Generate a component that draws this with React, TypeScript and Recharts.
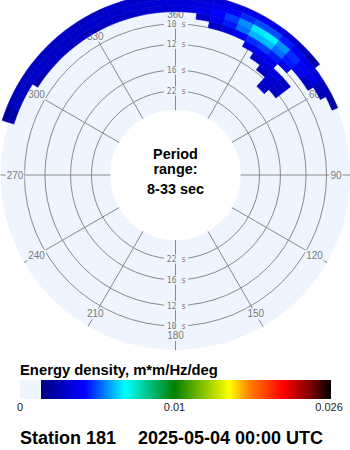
import React from 'react';
import { RadarChart, PolarGrid, PolarAngleAxis, PolarRadiusAxis, Pie, Cell } from 'recharts';

// ---------------- data ----------------
const angleTicks = [0, 30, 60, 90, 120, 150, 180, 210, 240, 270, 300, 330];
const periodTicks = [10, 12, 16, 22]; // seconds
const periodRange = [8, 33]; // seconds

// direction bin centres (deg, clockwise from north), 5 deg wide
const dirBins = [285, 290, 295, 300, 305, 310, 315, 320, 325, 330, 335, 340, 345, 350, 355, 0, 5, 10, 15, 20, 25, 30, 35, 40, 45, 50, 55, 60, 65, 70];
const DIR_WIDTH = 5;
// frequency bin centres (Hz), 0.005 Hz wide
const freqBins = [0.1225, 0.1175, 0.1125, 0.1075, 0.1025, 0.0975, 0.0925, 0.0875, 0.0825, 0.0775];
const FREQ_WIDTH = 0.005;

// energy density in units of 1e-4 m*m/Hz/deg, one row per frequency bin
//             285 290 295 300 305 310 315 320 325 330 335 340 345 350 355  0   5  10  15  20  25  30  35  40  45  50  55  60  65  70
const e1225 = [0, 8, 14, 16, 17, 17, 18, 18, 18, 18, 18, 19, 19, 19, 19, 20, 20, 21, 22, 24, 26, 27, 26, 22, 18, 10, 0, 0, 0, 0];
const e1175 = [0, 10, 16, 18, 19, 19, 19, 19, 19, 20, 20, 20, 21, 22, 22, 23, 24, 25, 28, 32, 38, 42, 42, 36, 30, 26, 22, 17, 10, 0];
const e1125 = [0, 0, 0, 0, 14, 16, 17, 17, 16, 16, 17, 18, 19, 20, 21, 22, 24, 27, 32, 40, 50, 60, 62, 50, 38, 32, 26, 14, 0, 0];
const e1075 = [0, 0, 0, 0, 0, 0, 0, 0, 0, 0, 0, 0, 0, 0, 0, 0, 0, 20, 28, 36, 46, 54, 55, 46, 36, 28, 16, 0, 0, 0];
const e1025 = [0, 0, 0, 0, 0, 0, 0, 0, 0, 0, 0, 0, 0, 0, 0, 0, 0, 0, 18, 24, 32, 38, 40, 36, 28, 0, 0, 0, 0, 0];
const e0975 = [0, 0, 0, 0, 0, 0, 0, 0, 0, 0, 0, 0, 0, 0, 0, 0, 0, 0, 0, 0, 0, 26, 30, 28, 0, 0, 0, 0, 0, 0];
const e0925 = [0, 0, 0, 0, 0, 0, 0, 0, 0, 0, 0, 0, 0, 0, 0, 0, 0, 0, 0, 0, 0, 0, 20, 24, 24, 18, 0, 0, 0, 0];
const e0875 = [0, 0, 0, 0, 0, 0, 0, 0, 0, 0, 0, 0, 0, 0, 0, 0, 0, 0, 0, 0, 0, 0, 0, 18, 22, 20, 0, 0, 0, 0];
const e0825 = [0, 0, 0, 0, 0, 0, 0, 0, 0, 0, 0, 0, 0, 0, 0, 0, 0, 0, 0, 0, 0, 0, 0, 0, 20, 18, 0, 0, 0, 0];
const e0775 = [0, 0, 0, 0, 0, 0, 0, 0, 0, 0, 0, 0, 0, 0, 0, 0, 0, 0, 0, 0, 0, 0, 0, 0, 16, 0, 0, 0, 0, 0];
const energyRows = [e1225, e1175, e1125, e1075, e1025, e0975, e0925, e0875, e0825, e0775];
const ENERGY_UNIT = 1e-4;

// colour scale
const cmapValues = [0, 0.0033, 0.0063, 0.01, 0.0156, 0.018, 0.0211, 0.0239, 0.026];
const cmapColors = ['#000080', '#0000ff', '#00ffff', '#008000', '#ffff00', '#ff8000', '#ff0000', '#800000', '#000000'];
const cbarPositions = [0, 0.15, 0.29, 0.46, 0.65, 0.72, 0.834, 0.928, 1];
const cbarTickLabels = ['0', '0.01', '0.026'];

const stationName = 'Station 181';
const timeLabel = '2025-05-04 00:00 UTC';
const cbarTitle = 'Energy density, m*m/Hz/deg';

// ---------------- layout ----------------
const CX = 175.5;
const CY = 175;
const INNER_R = 65;
const OUTER_R = 175;
// radial axis: frequency measured from the inner edge of the plot
const F_INNER = 0.02997;
const F_OUTER = 0.1195;
const radialDomain: [number, number] = [0, F_OUTER - F_INNER];
const DISC = '#eef5fe';
const GRID = '#8a8a8a';
const LABEL = '#7a7a7a';

const rScale = (f: number) =>
  INNER_R + ((f - F_INNER) / (F_OUTER - F_INNER)) * (OUTER_R - INNER_R);

const hexToRgb = (h: string) => [1, 3, 5].map((i) => parseInt(h.slice(i, i + 2), 16));
const colorOf = (v: number) => {
  if (v <= 0) return 'none';
  for (let i = 1; i < cmapValues.length; i++) {
    if (v <= cmapValues[i]) {
      const t = (v - cmapValues[i - 1]) / (cmapValues[i] - cmapValues[i - 1]);
      const a = hexToRgb(cmapColors[i - 1]);
      const b = hexToRgb(cmapColors[i]);
      const c = a.map((x, k) => Math.round(x + (b[k] - x) * t));
      return `rgb(${c[0]},${c[1]},${c[2]})`;
    }
  }
  return cmapColors[cmapColors.length - 1];
};

const axisRows = angleTicks.map((a, i) => ({ dir: a, df: i < periodTicks.length ? 1 / periodTicks[i] - F_INNER : 0 }));
const radialTicks = periodTicks.map((p) => 1 / p - F_INNER);

const AngleTick = (props: any) => {
  const { payload } = props;
  const cx = typeof props.cx === 'number' ? props.cx : CX;
  const cy = typeof props.cy === 'number' ? props.cy : CY;
  const a = ((90 - payload.value) * Math.PI) / 180;
  const R = 160.5;
  const x = cx + R * Math.cos(a);
  const y = cy - R * Math.sin(a);
  const label = payload.value === 0 ? '360' : String(payload.value);
  const w = label.length * 5.6 + 2;
  return (
    <g>
      <rect x={x - w / 2} y={y - 5.5} width={w} height={11} fill={DISC} />
      <text x={x} y={y + 3.5} textAnchor="middle" fontSize={10} fill={LABEL} fontFamily="Liberation Sans, Arial, sans-serif">
        {label}
      </text>
    </g>
  );
};

const PeriodTick = (props: any) => {
  const { x, y, payload } = props;
  const label = `${Math.round(1 / (payload.value + F_INNER))} s`;
  return (
    <g>
      <rect x={x - 11.5} y={y - 4.5} width={24} height={9} fill={DISC} />
      <text x={x + 1} y={y + 3} textAnchor="middle" fontSize={8} fill={LABEL} fontFamily="DejaVu Sans Mono, monospace">
        {label}
      </text>
    </g>
  );
};

const startAngle = (() => {
  const s = 90 - (dirBins[0] - DIR_WIDTH / 2);
  return s < 0 ? s + 360 : s;
})();
const endAngle = startAngle - dirBins.length * DIR_WIDTH;

export default function App() {
  const gradient = `linear-gradient(to right, ${cmapColors
    .map((c, i) => `${c} ${(cbarPositions[i] * 100).toFixed(1)}%`)
    .join(', ')})`;

  return (
    <div style={{ position: 'absolute', left: 0, top: 0, width: 350, height: 450, background: '#fff', fontFamily: 'Liberation Sans, Arial, sans-serif', overflow: 'hidden' }}>
      <div
        style={{
          position: 'absolute',
          left: 0,
          top: 0,
          width: 350,
          height: 350,
          background: `radial-gradient(circle at ${CX}px ${CY}px, rgba(255,255,255,0) ${INNER_R}px, ${DISC} ${INNER_R + 0.5}px, ${DISC} ${OUTER_R - 0.5}px, rgba(255,255,255,0) ${OUTER_R}px)`,
        }}
      />
      <div style={{ position: 'absolute', left: 0, top: 0 }}>
        <RadarChart
          width={350}
          height={350}
          cx={CX}
          cy={CY}
          innerRadius={INNER_R}
          outerRadius={OUTER_R}
          startAngle={90}
          endAngle={-270}
          data={axisRows}
          margin={{ top: 0, right: 0, bottom: 0, left: 0 }}
        >
          <PolarGrid gridType="circle" stroke={GRID} strokeWidth={1} zIndex={-100} />
          <PolarAngleAxis dataKey="dir" type="number" domain={[0, 360]} ticks={angleTicks} tick={AngleTick} axisLine={false} tickLine={false} allowDataOverflow zIndex={0} />
          <PolarRadiusAxis dataKey="df" angle={90} type="number" domain={radialDomain} ticks={radialTicks} tick={PeriodTick} axisLine={false} tickLine={false} allowDataOverflow zIndex={0} />
          <PolarRadiusAxis dataKey="df" radiusAxisId="bottom" angle={-90} type="number" domain={radialDomain} ticks={radialTicks} tick={PeriodTick} axisLine={false} tickLine={false} allowDataOverflow zIndex={0} />
          {freqBins.map((f, k) => {
            const rows = dirBins.map((d, i) => ({ dir: d, span: DIR_WIDTH, e: energyRows[k][i] * ENERGY_UNIT }));
            return (
              <Pie
                key={`ring-${f}`}
                data={rows}
                dataKey="span"
                cx={CX}
                cy={CY}
                innerRadius={rScale(f - FREQ_WIDTH / 2)}
                outerRadius={rScale(f + FREQ_WIDTH / 2)}
                startAngle={startAngle}
                endAngle={endAngle}
                isAnimationActive={false}
                stroke="none"
                label={false}
                labelLine={false}
                legendType="none"
                zIndex={100}
              >
                {rows.map((r, i) => {
                  const c = colorOf(r.e);
                  return <Cell key={`c-${i}`} fill={c} stroke={c} strokeWidth={c === 'none' ? 0 : 0.6} />;
                })}
              </Pie>
            );
          })}
        </RadarChart>
      </div>

      {/* centre text */}
      <div style={{ position: 'absolute', left: CX - 60, width: 120, top: 146, textAlign: 'center', fontWeight: 'bold', fontSize: 14.4, lineHeight: '16px', color: '#000' }}>
        Period
      </div>
      <div style={{ position: 'absolute', left: CX - 60, width: 120, top: 161, textAlign: 'center', fontWeight: 'bold', fontSize: 14.4, lineHeight: '16px', color: '#000' }}>
        range:
      </div>
      <div style={{ position: 'absolute', left: CX - 60, width: 120, top: 181, textAlign: 'center', fontWeight: 'bold', fontSize: 14.4, lineHeight: '16px', color: '#000' }}>
        {`${periodRange[0]}-${periodRange[1]} sec`}
      </div>

      {/* colour bar */}
      <div style={{ position: 'absolute', left: 20, top: 362, fontWeight: 'bold', fontSize: 14.8, lineHeight: '16px', color: '#000', whiteSpace: 'nowrap' }}>
        {cbarTitle}
      </div>
      <div style={{ position: 'absolute', left: 20, top: 380, width: 21, height: 19, background: DISC }} />
      <div style={{ position: 'absolute', left: 41, top: 380, width: 290, height: 19, background: gradient }} />
      <div style={{ position: 'absolute', left: 0, width: 40, top: 401, textAlign: 'center', fontSize: 11, lineHeight: '12px', color: '#222' }}>{cbarTickLabels[0]}</div>
      <div style={{ position: 'absolute', left: 154.5, width: 40, top: 401, textAlign: 'center', fontSize: 11, lineHeight: '12px', color: '#222' }}>{cbarTickLabels[1]}</div>
      <div style={{ position: 'absolute', left: 309, width: 40, top: 401, textAlign: 'center', fontSize: 11, lineHeight: '12px', color: '#222' }}>{cbarTickLabels[2]}</div>

      {/* footer */}
      <div style={{ position: 'absolute', left: 20, top: 428, fontWeight: 'bold', fontSize: 18, lineHeight: '20px', color: '#000', whiteSpace: 'nowrap' }}>
        {stationName}
      </div>
      <div style={{ position: 'absolute', left: 138, top: 428, fontWeight: 'bold', fontSize: 18, lineHeight: '20px', color: '#000', whiteSpace: 'nowrap' }}>
        {timeLabel}
      </div>
    </div>
  );
}
